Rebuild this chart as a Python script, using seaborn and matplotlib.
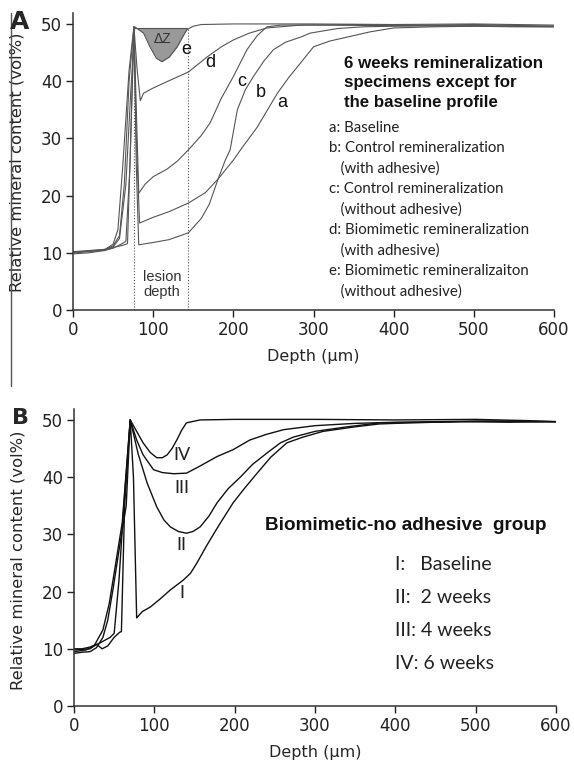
import matplotlib
matplotlib.use("Agg")
import matplotlib.pyplot as plt
import numpy as np
import seaborn as sns
from matplotlib.lines import Line2D

# ---- panel A: 6 weeks remineralization profiles (a-e) ----
a_depth = [0, 20, 40, 50, 60, 66, 71, 76, 79, 83, 100, 120, 144, 165, 181, 200, 209, 230, 255, 270, 284, 300, 320, 342, 370, 400, 450, 500, 550, 600]
a_value = [10.0, 10.2, 10.5, 10.8, 11.5, 12.0, 25.0, 49.5, 30.0, 15.2, 16.2, 17.2, 18.7, 20.5, 22.9, 26.2, 28.0, 32.0, 37.9, 40.8, 43.2, 46.0, 47.0, 47.7, 48.6, 49.3, 49.5, 49.6, 49.5, 49.5]

b_depth = [0, 20, 40, 52, 62, 68, 72, 76, 79, 82, 100, 120, 144, 160, 170, 181, 190, 196, 205, 215, 225, 238, 250, 265, 284, 296, 330, 362, 400, 500, 600]
b_value = [9.8, 10.0, 10.4, 11.0, 11.3, 11.6, 30.0, 49.3, 25.0, 11.4, 11.8, 12.3, 13.5, 16.0, 18.5, 22.9, 26.2, 28.0, 35.0, 38.5, 40.8, 43.5, 45.5, 46.8, 47.7, 48.4, 49.2, 49.5, 49.6, 49.7, 49.6]

c_depth = [0, 20, 40, 50, 58, 64, 70, 76, 79, 82, 90, 100, 117, 130, 144, 160, 171, 185, 200, 217, 230, 242, 260, 300, 400, 500, 600]
c_value = [10.2, 10.4, 10.6, 11.2, 13.0, 22.0, 40.0, 49.5, 35.0, 20.4, 22.0, 23.3, 24.6, 26.0, 28.0, 30.5, 32.7, 37.0, 40.8, 45.5, 48.0, 49.5, 49.8, 49.8, 49.7, 49.9, 49.6]

d_depth = [0, 20, 40, 50, 56, 62, 70, 76, 80, 84, 88, 100, 117, 144, 167, 185, 200, 220, 242, 284, 350, 450, 600]
d_value = [10.0, 10.3, 10.6, 11.5, 14.0, 25.0, 42.0, 49.5, 42.0, 36.6, 37.9, 38.8, 39.9, 41.6, 44.2, 46.0, 47.2, 48.4, 49.3, 49.8, 49.9, 49.7, 49.5]

e_depth = [0, 20, 40, 50, 58, 66, 72, 77, 82, 88, 96, 104, 111, 120, 130, 137, 142, 150, 160, 200, 300, 400, 500, 600]
e_value = [10.1, 10.3, 10.5, 11.0, 12.5, 22.0, 38.0, 49.5, 49.0, 48.4, 46.0, 44.0, 43.4, 44.2, 46.0, 47.8, 49.0, 49.6, 49.9, 50.0, 50.0, 49.9, 50.0, 49.8]

a_labels = ["a", "b", "c", "d", "e"]
a_label_pos = [(261, 36.2), (234, 38.1), (211, 39.9), (171, 43.2), (141, 45.5)]
lesion_lines = [76, 144]
dz_level = 49.3

legend_a = ["a: Baseline", "b: Control remineralization", "   (with adhesive)",
            "c: Control remineralization", "   (without adhesive)",
            "d: Biomimetic remineralization", "   (with adhesive)",
            "e: Biomimetic remineralizaiton", "   (without adhesive)"]
title_a = ["6 weeks remineralization", "specimens except for", "the baseline profile"]

# ---- panel B: biomimetic-no adhesive group over time ----
i_depth = [0, 10, 20, 28, 36, 42, 49, 58, 65, 70, 74, 78, 85, 95, 108, 120, 136, 145, 153, 165, 180, 198, 212, 228, 245, 265, 285, 310, 350, 380, 420, 480, 540, 600]
i_value = [9.2, 9.4, 9.5, 10.2, 12.0, 15.0, 20.8, 29.0, 35.0, 50.0, 40.0, 15.4, 16.5, 17.3, 18.8, 20.3, 22.0, 23.2, 25.0, 28.0, 31.5, 35.5, 38.0, 40.7, 43.5, 46.0, 47.0, 48.0, 48.8, 49.3, 49.5, 49.7, 49.6, 49.7]

ii_depth = [0, 10, 20, 25, 36, 44, 52, 60, 70, 80, 91, 103, 112, 120, 130, 140, 148, 157, 168, 178, 192, 207, 222, 240, 257, 273, 300, 340, 381, 450, 520, 600]
ii_value = [9.8, 9.9, 10.0, 10.5, 13.3, 18.0, 25.0, 32.0, 50.0, 44.0, 39.0, 34.8, 32.5, 31.3, 30.5, 30.2, 30.5, 31.3, 33.2, 35.5, 38.0, 40.0, 42.2, 44.2, 46.0, 47.0, 48.0, 48.8, 49.5, 49.6, 49.8, 49.7]

iii_depth = [0, 10, 20, 28, 35, 42, 50, 57, 59, 63, 70, 78, 86, 99, 110, 124, 140, 155, 178, 198, 219, 240, 261, 300, 350, 400, 500, 600]
iii_value = [10.0, 10.0, 10.3, 10.8, 10.0, 10.5, 12.0, 12.9, 13.0, 35.0, 50.0, 46.5, 43.9, 41.3, 40.8, 40.6, 40.7, 41.8, 43.6, 44.8, 46.5, 47.5, 48.3, 49.0, 49.4, 49.6, 49.8, 49.7]

iv_depth = [0, 15, 25, 32, 45, 50, 56, 62, 70, 78, 86, 95, 103, 110, 116, 122, 128, 134, 140, 157, 200, 300, 400, 500, 560, 600]
iv_value = [9.5, 9.8, 10.5, 11.0, 12.0, 12.7, 22.0, 35.0, 50.0, 48.0, 46.0, 44.3, 43.4, 43.4, 43.9, 45.0, 46.5, 48.2, 49.5, 50.0, 50.1, 50.1, 50.0, 50.1, 49.9, 49.7]

b_labels = ["IV", "III", "II", "I"]
b_label_pos = [(134, 43.9), (134, 38.1), (134, 28.1), (134, 19.7)]
legend_b = ["I:   Baseline", "II:  2 weeks", "III: 4 weeks", "IV: 6 weeks"]

x_ticks = [0, 100, 200, 300, 400, 500, 600]
y_ticks = [0, 10, 20, 30, 40, 50]

sns.set_style("ticks")
plt.rcParams["font.family"] = ["DejaVu Sans"]

W, H = 574, 763
fig = plt.figure(figsize=(W / 100, H / 100), dpi=100)


def px(x, y):
    return x / W, 1 - y / H


def style_axis(ax):
    ax.set_xlim(0, 600)
    ax.set_ylim(0, 52)
    ax.set_xticks(x_ticks)
    ax.set_yticks(y_ticks)
    ax.tick_params(labelsize=12, length=5, width=1, colors="#222", pad=3)
    for s in ["top", "right"]:
        ax.spines[s].set_visible(False)
    for s in ["left", "bottom"]:
        ax.spines[s].set_linewidth(1.1)
        ax.spines[s].set_color("#333")
    ax.set_xlabel("Depth (\u03bcm)", fontsize=11.5, labelpad=7)
    ax.set_ylabel("Relative mineral content (vol%)", fontsize=11.8)


# panel A
axA = fig.add_axes([73 / W, 1 - 310 / H, 481 / W, 297.5 / H])
gray = "#555555"
for dep, val in [(a_depth, a_value), (b_depth, b_value), (c_depth, c_value),
                 (d_depth, d_value), (e_depth, e_value)]:
    sns.lineplot(x=dep, y=val, ax=axA, color=gray, lw=0.8, estimator=None)

e_dep = np.array(e_depth)
e_val = np.array(e_value)
mask = (e_dep >= 77) & (e_dep <= 142)
axA.fill_between(e_dep[mask], e_val[mask], dz_level, color="#999999", lw=0)
axA.plot([77, 142], [dz_level, dz_level], color=gray, lw=0.8)
for xv in lesion_lines:
    axA.plot([xv, xv], [0, dz_level], color=gray, lw=0.8, ls=":")
axA.text(111, 47.4, "\u0394Z", fontsize=10, ha="center", va="center", color="#333",
         family="Liberation Sans")
axA.text(111, 4.5, "lesion\ndepth", fontsize=10.5, ha="center", va="center", color="#333",
         family="Liberation Sans", linespacing=1.1)
for lab, (xv, yv) in zip(a_labels, a_label_pos):
    axA.text(xv, yv, lab, fontsize=13, ha="center", va="center", color="#111",
             family="Liberation Sans")
style_axis(axA)
axA.yaxis.set_label_coords(-0.10, 0.495)

for k, line in enumerate(title_a):
    fig.text(*px(344, 63 + 19.5 * k), line, fontsize=12.2, fontweight="bold",
             family="Liberation Sans", va="center", ha="left", color="#111")
for k, line in enumerate(legend_a):
    fig.text(*px(329, 128 + 20.4 * k), line, fontsize=10.8, family="Lato",
             va="center", ha="left", color="#222")

# panel B
axB = fig.add_axes([74 / W, 1 - 706 / H, 482 / W, 297.5 / H])
for dep, val in [(i_depth, i_value), (ii_depth, ii_value), (iii_depth, iii_value),
                 (iv_depth, iv_value)]:
    sns.lineplot(x=dep, y=val, ax=axB, color="#111111", lw=1.0, estimator=None)
for lab, (xv, yv) in zip(b_labels, b_label_pos):
    axB.text(xv, yv, lab, fontsize=13, ha="center", va="center", color="#222",
             family="Lato")
style_axis(axB)
axB.yaxis.set_label_coords(-0.10, 0.49)

fig.text(*px(265, 525), "Biomimetic-no adhesive  group", fontsize=13.6,
         fontweight="bold", family="Liberation Sans", va="center", ha="left", color="#111")
for k, line in enumerate(legend_b):
    fig.text(*px(395, 565 + 32.7 * k), line, fontsize=14, family="Lato",
             va="center", ha="left", color="#222")

# panel letters and left rule
fig.text(*px(20, 22), "A", fontsize=18, fontweight="bold", ha="center", va="center")
fig.text(*px(20, 418), "B", fontsize=16, fontweight="bold", ha="center", va="center")
fig.add_artist(Line2D([11 / W, 11 / W], [1 - 13 / H, 1 - 386 / H], color="#555", lw=1,
                      transform=fig.transFigure))

fig.savefig("out.png", dpi=100)
